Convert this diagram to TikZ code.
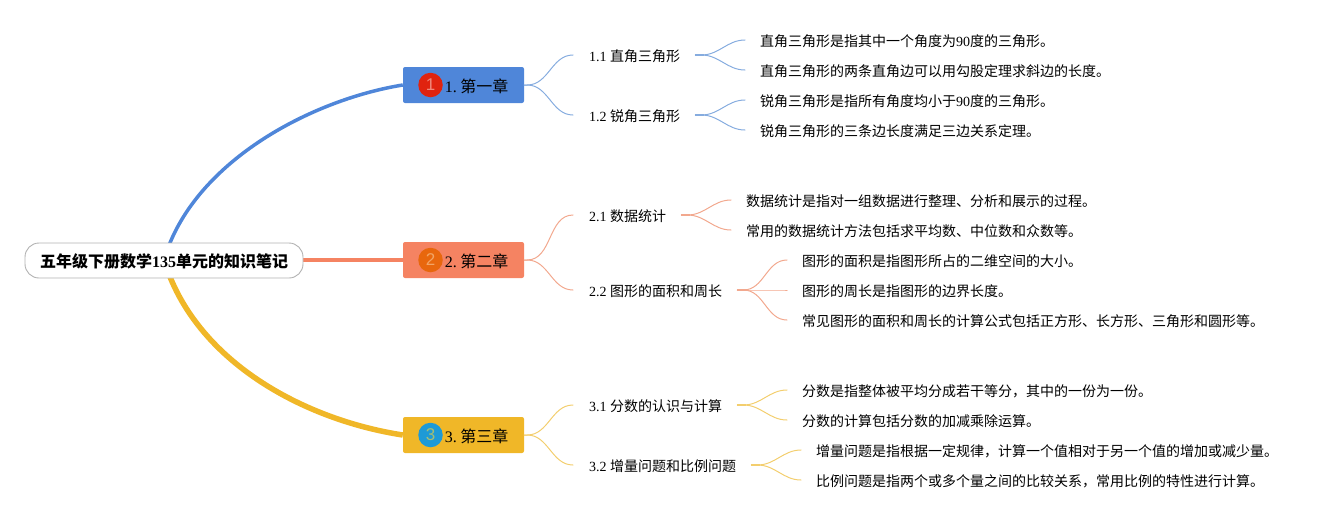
\documentclass[tikz,border=0pt]{standalone}
\usepackage{fontspec}
\setmainfont{Liberation Serif}
\setsansfont{Liberation Sans}
\newfontfamily\cjkf{Noto Sans CJK SC}
\newcommand{\zh}[1]{{\cjkf #1}}
\definecolor{cblue}{HTML}{4F86D9}
\definecolor{csal}{HTML}{F58362}
\definecolor{cyel}{HTML}{F0B728}
\definecolor{lblue}{HTML}{86ACDF}
\definecolor{lsal}{HTML}{F2A88E}
\definecolor{lyel}{HTML}{F3CE6E}
\definecolor{bred}{HTML}{E0230F}
\definecolor{bora}{HTML}{E8670D}
\definecolor{bsky}{HTML}{1E9AD6}
\definecolor{nred}{HTML}{F0877A}
\definecolor{nora}{HTML}{F2A566}
\definecolor{nsky}{HTML}{A5BE74}
\tikzset{
  x=1pt,y=-1pt,
  rootbox/.style={draw=black!30,line width=0.9pt,fill=white,rounded corners=14pt,minimum width=278pt,minimum height=35pt,inner sep=0pt,text height=15pt,text depth=1pt,font=\fontsize{16}{16}\selectfont\bfseries},
  chapbox/.style={rounded corners=2pt,minimum width=121pt,minimum height=36pt,inner sep=0pt},
  chaplabel/.style={anchor=west,inner sep=0pt,text height=15pt,text depth=1pt,font=\fontsize{16}{16}\selectfont},
  badge/.style={circle,minimum size=24.5pt,inner sep=0pt,font=\fontsize{17}{17}\selectfont\sffamily},
  subtopic/.style={anchor=west,inner sep=0pt,text height=13pt,text depth=1pt,font=\fontsize{14}{14}\selectfont},
}
\newcommand{\fork}[3]{%
  \draw[#3,line width=1pt,line cap=round] ([xshift=15pt]#1.east) -- ++(6,0) to[out=0,in=180] ([xshift=-15pt]#2.west);
  \draw[#3,line width=1.5pt] ([xshift=15pt]#1.east) -- ++(9,0);}
\newcommand{\chapfork}[3]{%
  \draw[#3,line width=1pt,line cap=round] (#1.east) -- ++(3,0) to[out=0,in=180] ([xshift=-16pt]#2.west);}
\begin{document}
\begin{tikzpicture}
\useasboundingbox (0,0) rectangle (1338,520);
% chapter boxes
\node[chapbox,fill=cblue] (c1) at (463.5,85) {};
\node[chapbox,fill=csal] (c2) at (463.5,260) {};
\node[chapbox,fill=cyel] (c3) at (463.5,435) {};
% root and main branches
\coordinate (rc) at (164,260);
\draw[cblue,line width=3.5pt] (rc) .. controls (192,163) and (310,100) .. (c1.west);
\draw[csal,line width=4.5pt] (rc) -- (c2.west);
\draw[cyel,line width=5.5pt] (rc) .. controls (195,362) and (305,420) .. (c3.west);
\node[rootbox] (root) at (164,260.5) {\zh{五年级下册数学}135\zh{单元的知识笔记}};
% badges and chapter labels
\node[badge,fill=bred,text=nred] (b1) at (430.5,85) {1};
\node[badge,fill=bora,text=nora] (b2) at (430.5,260) {2};
\node[badge,fill=bsky,text=nsky] (b3) at (430.5,435) {3};
\node[chaplabel] (l1) at (444.7,85) {1.\hspace{3.4pt}\zh{第一章}};
\node[chaplabel] (l2) at (444.7,260) {2.\hspace{3.4pt}\zh{第二章}};
\node[chaplabel] (l3) at (444.7,435) {3.\hspace{3.4pt}\zh{第三章}};
% subtopics
\node[subtopic] (s11) at (589,55) {1.1 \zh{直角三角形}};
\node[subtopic] (s12) at (589,115) {1.2 \zh{锐角三角形}};
\node[subtopic] (s21) at (589,215) {2.1 \zh{数据统计}};
\node[subtopic] (s22) at (589,290) {2.2 \zh{图形的面积和周长}};
\node[subtopic] (s31) at (589,405) {3.1 \zh{分数的认识与计算}};
\node[subtopic] (s32) at (589,465) {3.2 \zh{增量问题和比例问题}};
% leaves
\node[subtopic] (a1) at (760,40) {\zh{直角三角形是指其中一个角度为}90\zh{度的三角形。}};
\node[subtopic] (a2) at (760,70) {\zh{直角三角形的两条直角边可以用勾股定理求斜边的长度。}};
\node[subtopic] (a3) at (760,100) {\zh{锐角三角形是指所有角度均小于}90\zh{度的三角形。}};
\node[subtopic] (a4) at (760,130) {\zh{锐角三角形的三条边长度满足三边关系定理。}};
\node[subtopic] (b5) at (746,200) {\zh{数据统计是指对一组数据进行整理、分析和展示的过程。}};
\node[subtopic] (b6) at (746,230) {\zh{常用的数据统计方法包括求平均数、中位数和众数等。}};
\node[subtopic] (b7) at (802,260) {\zh{图形的面积是指图形所占的二维空间的大小。}};
\node[subtopic] (b8) at (802,290) {\zh{图形的周长是指图形的边界长度。}};
\node[subtopic] (b9) at (802,320) {\zh{常见图形的面积和周长的计算公式包括正方形、长方形、三角形和圆形等。}};
\node[subtopic] (d1) at (802,390) {\zh{分数是指整体被平均分成若干等分，其中的一份为一份。}};
\node[subtopic] (d2) at (802,420) {\zh{分数的计算包括分数的加减乘除运算。}};
\node[subtopic] (d3) at (816,450) {\zh{增量问题是指根据一定规律，计算一个值相对于另一个值的增加或减少量。}};
\node[subtopic] (d4) at (816,480) {\zh{比例问题是指两个或多个量之间的比较关系，常用比例的特性进行计算。}};
% connectors
\chapfork{c1}{s11}{lblue}\chapfork{c1}{s12}{lblue}
\chapfork{c2}{s21}{lsal}\chapfork{c2}{s22}{lsal}
\chapfork{c3}{s31}{lyel}\chapfork{c3}{s32}{lyel}
\fork{s11}{a1}{lblue}\fork{s11}{a2}{lblue}
\fork{s12}{a3}{lblue}\fork{s12}{a4}{lblue}
\fork{s21}{b5}{lsal}\fork{s21}{b6}{lsal}
\fork{s22}{b7}{lsal}\fork{s22}{b8}{lsal}\fork{s22}{b9}{lsal}
\fork{s31}{d1}{lyel}\fork{s31}{d2}{lyel}
\fork{s32}{d3}{lyel}\fork{s32}{d4}{lyel}
\end{tikzpicture}
\end{document}
